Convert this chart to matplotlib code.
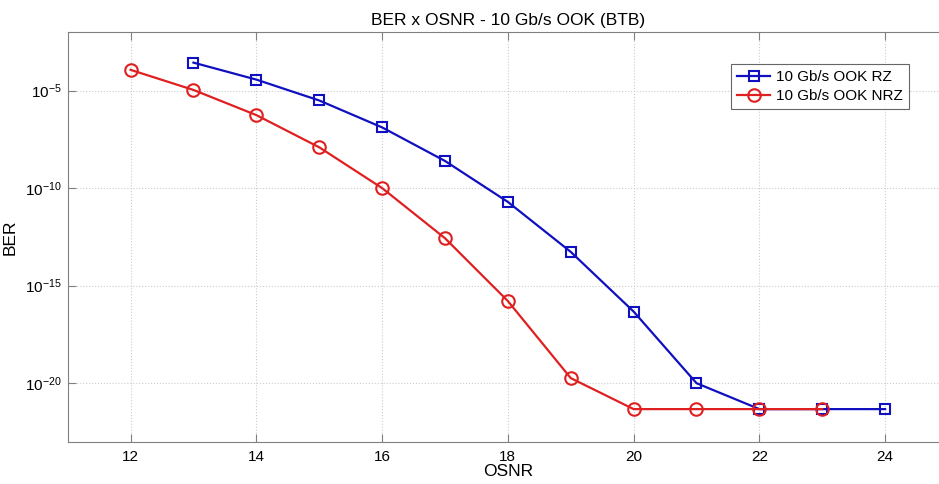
import numpy as np
import matplotlib
matplotlib.use("Agg")
import matplotlib.pyplot as plt
from matplotlib.ticker import FixedLocator, LogFormatterMathtext, NullLocator

plt.rcParams['font.family'] = ['Liberation Sans', 'DejaVu Sans']
plt.rcParams['mathtext.default'] = 'regular'

# data (log10 of BER)
osnr_rz = [13, 14, 15, 16, 17, 18, 19, 20, 21, 22, 23, 24]
log_ber_rz = [-3.57, -4.44, -5.51, -6.89, -8.61, -10.71, -13.27, -16.33, -20.0, -21.33, -21.33, -21.33]
osnr_nrz = [12, 13, 14, 15, 16, 17, 18, 19, 20, 21, 22, 23]
log_ber_nrz = [-3.94, -4.97, -6.26, -7.91, -10.0, -12.57, -15.79, -19.74, -21.33, -21.33, -21.33, -21.33]

ber_rz = 10.0 ** np.array(log_ber_rz)
ber_nrz = 10.0 ** np.array(log_ber_nrz)

fig = plt.figure(figsize=(9.39, 4.84), dpi=100)
ax = fig.add_axes([0.0721, 0.0874, 1.0096 - 0.0721, 0.9339 - 0.0874])

ax.semilogy(osnr_rz, ber_rz, color='#1010c0', lw=1.6, marker='s', ms=6.5,
            mfc='none', mew=1.5, label='10 Gb/s OOK RZ')
ax.semilogy(osnr_nrz, ber_nrz, color='#e02020', lw=1.6, marker='o', ms=9,
            mfc='none', mew=1.5, label='10 Gb/s OOK NRZ')

ax.set_xlim(11, 25)
ax.set_ylim(1e-23, 1e-2)
ax.set_xticks([12, 14, 16, 18, 20, 22, 24])
ax.yaxis.set_major_locator(FixedLocator([1e-5, 1e-10, 1e-15, 1e-20]))
ax.yaxis.set_major_formatter(LogFormatterMathtext())
ax.yaxis.set_minor_locator(NullLocator())

ax.grid(True, which='major', linestyle=':', color='#cccccc', lw=0.8)
ax.tick_params(direction='in', top=True, right=True, length=6,
               color='#808080', labelsize=11)
ax.tick_params(axis='x', pad=6)
ax.tick_params(axis='y', pad=4)
for s in ax.spines.values():
    s.set_color('#808080')

ax.set_title('BER x OSNR - 10 Gb/s OOK (BTB)', fontsize=12.5, pad=5)
ax.set_xlabel('OSNR', fontsize=12.5, labelpad=0)
ax.set_ylabel('BER', fontsize=12.5)
ax.yaxis.set_label_coords(-0.057, 0.5)

leg = ax.legend(loc='upper left', bbox_to_anchor=(0.7445, 0.94), fontsize=11,
                frameon=True, fancybox=False, handlelength=2.2,
                borderpad=0.4, labelspacing=0.3, handletextpad=0.35)
leg.get_frame().set_edgecolor('#404040')
leg.get_frame().set_linewidth(0.8)

fig.savefig('out.png', dpi=100)
